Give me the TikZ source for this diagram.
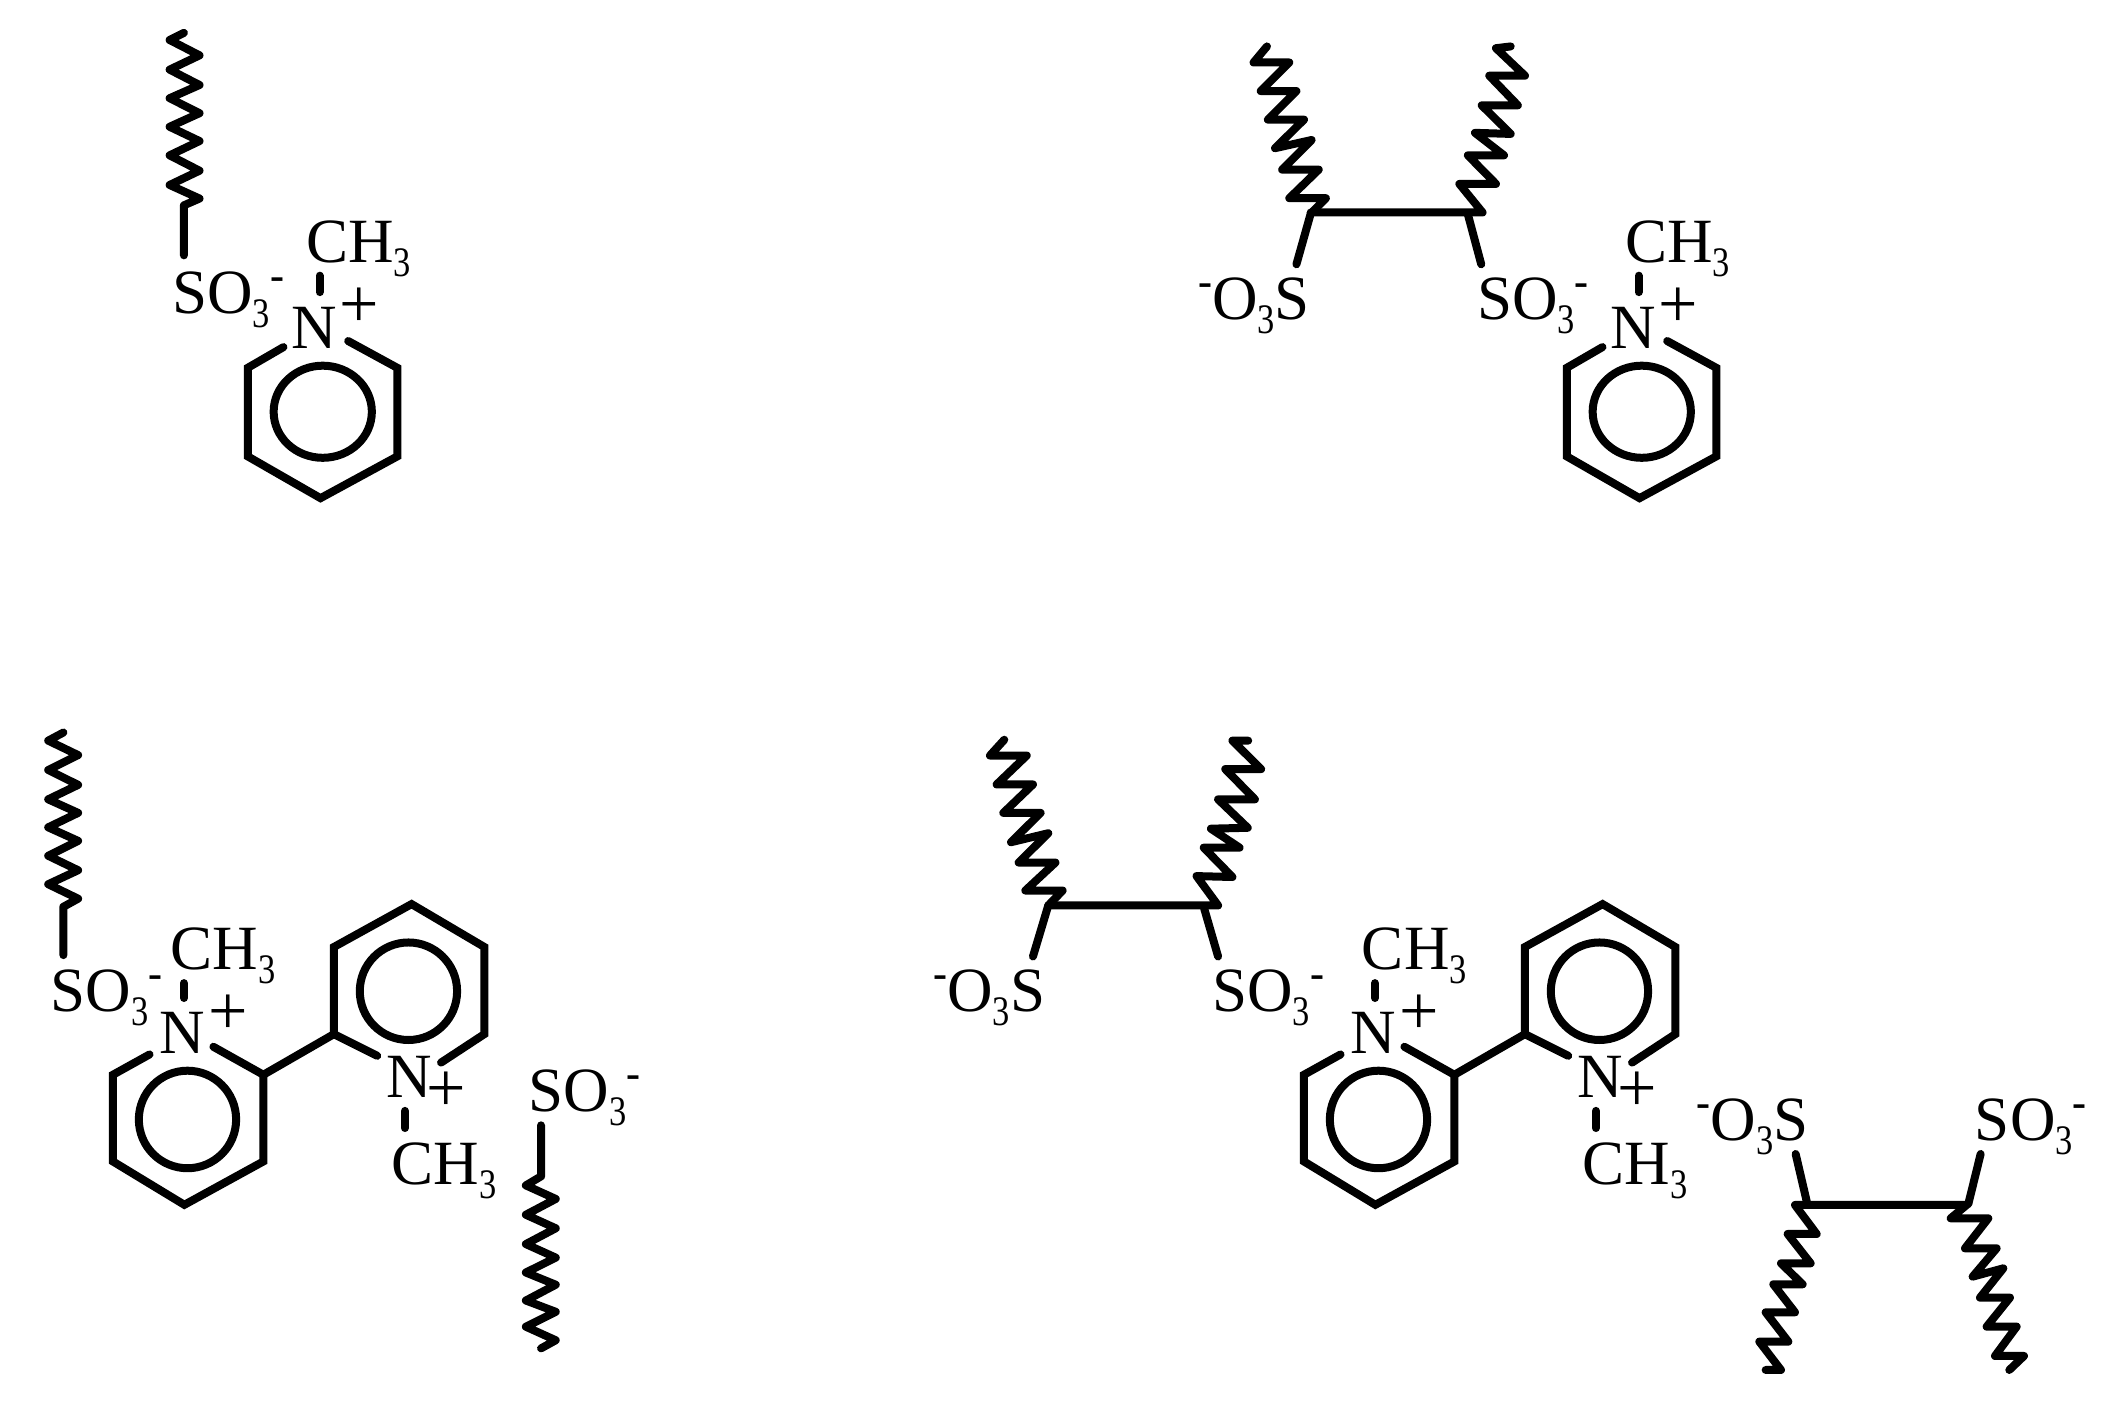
\documentclass[tikz,border=0pt]{standalone}
\usepackage{fontspec}
\usepackage{graphicx}
\setmainfont{Liberation Serif}
\newcommand\Sbn{\raisebox{-14pt}{\fontsize{42}{42}\selectfont\scalebox{.82}[1]{3}}}
\newcommand\Smn{\raisebox{24pt}{\fontsize{42}{42}\selectfont\bfseries -}}
\tikzset{
  bond/.style={line width=8pt,line cap=round,line join=round,black},
  ring/.style={line width=8pt,line cap=round,line join=miter,black},
  lab/.style={inner sep=0pt,outer sep=0pt,anchor=base west,text=black,font=\fontsize{63}{63}\selectfont},
  plab/.style={inner sep=0pt,outer sep=0pt,anchor=base west,text=black,font=\fontsize{70}{70}\selectfont},
  zA/.style={x=0.4464pt,y=-0.3571pt},
  zC/.style={x=0.4464pt,y=-0.4515pt,yshift=-700pt},
  zD/.style={x=0.4783pt,y=-0.4515pt,xshift=900pt,yshift=-700pt},
  zE/.style={x=0.3333pt,y=-0.3333pt,xshift=1600pt,yshift=-1000pt},
  zB/.style={x=0.4464pt,y=-0.3571pt,xshift=1150pt}
}
\newcommand\pyridinium{%
  \draw[ring] (635,972) -- (555,1030) -- (555,1278) -- (718,1395) -- (890,1278) -- (890,1030) -- (780,955);
  \draw[ring] (723,1153) ellipse [x radius=110,y radius=129];
  \draw[bond] (716,772) -- (716,818);
  \node[lab] (ch) at (686,735) {CH\Sbn};
  \node[lab] (n) at (652,975) {N};
  \node[plab] (plus) at (761,918) {+};
}
\newcommand\bipyridinium{%
  \draw[ring] (335,785) -- (253,830) -- (253,1022) -- (413,1118) -- (590,1022) -- (590,830) -- (478,768);
  \draw[ring] (420,929) ellipse [x radius=109,y radius=108];
  \draw[bond] (590,830) -- (748,740);
  \draw[ring] (845,788) -- (748,740) -- (748,547) -- (922,452) -- (1085,547) -- (1085,740) -- (988,803);
  \draw[ring] (915,645) ellipse [x radius=109,y radius=108];
  \draw[bond] (412,627) -- (412,660);
  \draw[bond] (907,910) -- (907,948);
  \node[lab] (cha) at (383,597) {CH\Sbn};
  \node[lab] (na) at (358,782) {N};
  \node[plab] (plusa) at (466,740) {+};
  \node[lab] (nb) at (865,880) {N};
  \node[plab] (plusb) at (956,912) {+};
  \node[lab] (chb) at (878,1072) {CH\Sbn};
}
\begin{document}
\begin{tikzpicture}[x=1pt,y=-1pt]
\useasboundingbox (0,0) rectangle (2117,1408);
% Molecule A
\begin{scope}[zA,name prefix=a-]
  \draw[bond] (412,92) -- (380,112) -- (447,155) -- (380,195) -- (447,238) -- (380,275) -- (447,317) -- (380,355) -- (447,395) -- (380,435) -- (447,478) -- (380,518) -- (447,556) -- (412,575) -- (412,715);
  \node[lab] (so) at (386,878) {SO\Sbn\Smn};
  \pyridinium
\end{scope}
% Molecule B
\begin{scope}[zB,name prefix=b-]
  \draw[bond] (262,130) -- (232,175) -- (312,175) -- (248,255) -- (328,255) -- (264,335) -- (345,335) -- (280,415) -- (362,392) -- (296,475) -- (378,475) -- (312,555) -- (394,555) -- (360,598) -- (328,740);
  \draw[bond] (360,595) -- (745,595) -- (693,515) -- (775,515) -- (712,435) -- (793,435) -- (728,372) -- (808,375) -- (743,295) -- (824,295) -- (760,212) -- (840,212) -- (775,135) -- (808,130);
  \draw[bond] (712,600) -- (742,740);
  \node[lab] (lso) at (108,895) {\Smn O\Sbn S};
  \node[lab] (rso) at (733,895) {SO\Sbn\Smn};
\end{scope}
\begin{scope}[zA,xshift=1319pt,name prefix=bp-]
  \pyridinium
\end{scope}
% Molecule C
\begin{scope}[zC,name prefix=c-]
  \draw[bond] (142,72) -- (108,90) -- (175,122) -- (108,155) -- (175,188) -- (108,220) -- (175,250) -- (108,282) -- (175,312) -- (108,345) -- (175,377) -- (108,408) -- (175,440) -- (142,458) -- (142,565);
  \node[lab] (soa) at (114,690) {SO\Sbn\Smn};
  \bipyridinium
  \draw[bond] (1212,942) -- (1212,1055) -- (1178,1075) -- (1245,1105) -- (1178,1140) -- (1245,1170) -- (1178,1205) -- (1245,1235) -- (1178,1268) -- (1245,1295) -- (1178,1330) -- (1245,1355) -- (1178,1388) -- (1245,1418) -- (1212,1436);
  \node[lab] (sob) at (1184,912) {SO\Sbn\Smn};
\end{scope}
% Molecule D
\begin{scope}[zD,name prefix=d-]
  \draw[bond] (218,88) -- (188,123) -- (265,123) -- (202,187) -- (278,187) -- (216,250) -- (294,250) -- (232,315) -- (310,295) -- (248,360) -- (325,360) -- (262,422) -- (340,422) -- (310,455) -- (278,568);
  \draw[bond] (310,455) -- (665,455) -- (620,390) -- (695,392) -- (635,327) -- (710,327) -- (650,285) -- (727,283) -- (665,220) -- (742,220) -- (680,153) -- (755,153) -- (695,90) -- (728,90);
  \draw[bond] (636,462) -- (665,568);
  \node[lab] (lso) at (70,690) {\Smn O\Sbn S};
  \node[lab] (rso) at (653,690) {SO\Sbn\Smn};
\end{scope}
\begin{scope}[zC,xshift=1191pt,name prefix=dp-]
  \bipyridinium
\end{scope}
% Molecule D, lower sulfonate pair
\begin{scope}[zE,name prefix=e-]
  \draw[bond] (587,462) -- (622,612);
  \draw[bond] (497,1110) -- (543,1110) -- (478,1025) -- (565,1025) -- (497,937) -- (585,937) -- (520,853) -- (608,853) -- (543,790) -- (632,790) -- (563,702) -- (650,702) -- (585,615) -- (1100,615) -- (1052,655) -- (1165,655) -- (1095,745) -- (1190,745) -- (1118,830) -- (1210,805) -- (1140,893) -- (1230,893) -- (1160,980) -- (1250,980) -- (1185,1068) -- (1272,1068) -- (1228,1110);
  \draw[bond] (1142,462) -- (1105,612);
  \node[lab] (lso) at (290,422) {\Smn O\Sbn S};
  \node[lab] (rso) at (1125,422) {SO\Sbn\Smn};
\end{scope}
\end{tikzpicture}
\end{document}
